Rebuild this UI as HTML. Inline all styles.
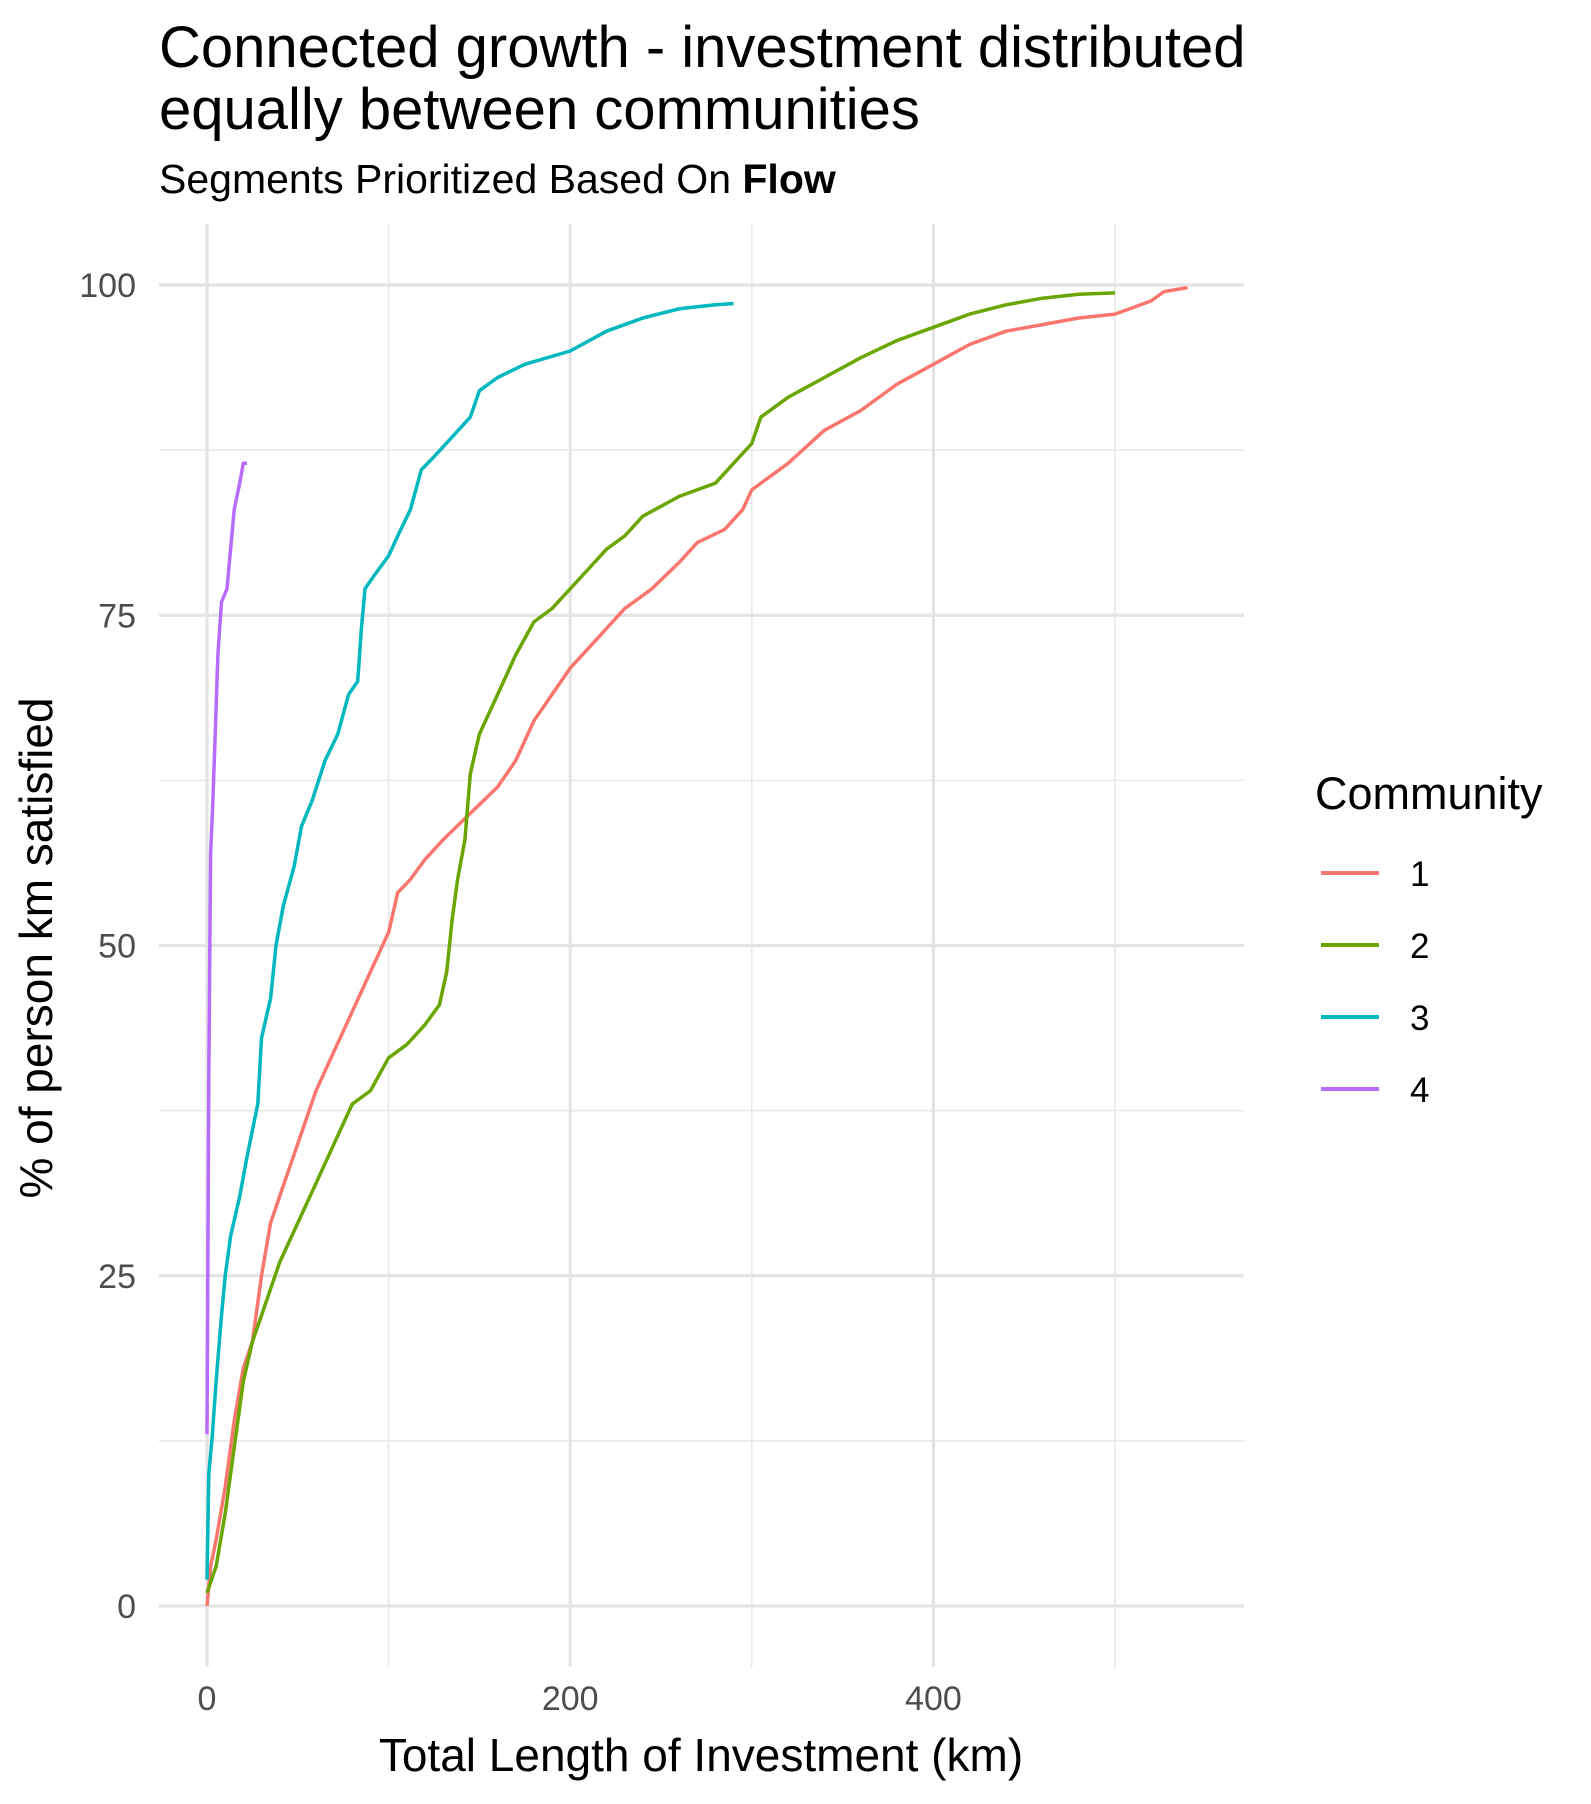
<!DOCTYPE html>
<html><head><meta charset="utf-8"><style>
body{margin:0;background:#fff;}
svg{display:block;font-family:"Liberation Sans",Arial,sans-serif;}
</style></head><body>
<svg width="1591" height="1804" viewBox="0 0 1591 1804">
<text x="159" y="67" font-size="58" fill="#000">Connected growth - investment distributed</text>
<text x="159" y="129" font-size="58" fill="#000">equally between communities</text>
<text x="159" y="193" font-size="41" fill="#000">Segments Prioritized Based On <tspan font-weight="bold">Flow</tspan></text>
<g id="grid"></g>
<g id="axes"></g>
<g id="lines"></g>
<text x="701" y="1771" font-size="46" text-anchor="middle">Total Length of Investment (km)</text>
<text transform="translate(52,948) rotate(-90)" font-size="46" text-anchor="middle">% of person km satisfied</text>
<text x="1315" y="809" font-size="45">Community</text>
<g id="legend"></g>
</svg>
<script>
const xTicks=[0,200,400];
const xMinor=[100,300,500];
const yTicks=[0,25,50,75,100];
const yMinor=[12.5,37.5,62.5,87.5];
const communities=["1","2","3","4"];
const colors=["#F8766D","#6BA500","#00B8BD","#B86BFF"];
const c1x=[0,2,5,10,15,20,25,30,35,40,45,50,55,60,70,80,90,100,105,112,120,130,145,160,170,180,190,200,210,220,230,245,260,270,285,295,300,320,340,360,380,400,420,440,460,480,500,520,527,540];
const c1y=[0,3,5,9,14,18,20,25,29,31,33,35,37,39,42,45,48,51,54,55,56.5,58,60,62,64,67,69,71,72.5,74,75.5,77,79,80.5,81.5,83,84.5,86.5,89,90.5,92.5,94,95.5,96.5,97,97.5,97.8,98.8,99.5,99.8];
const c2x=[0,5,10,15,20,25,30,40,50,60,70,80,90,100,110,120,128,132,135,138,142,145,150,160,170,180,190,200,210,220,230,240,260,280,290,300,305,320,340,360,380,400,420,440,460,480,500];
const c2y=[1,3,7,12,17,20,22,26,29,32,35,38,39,41.5,42.5,44,45.5,48,52,55,58,63,66,69,72,74.5,75.5,77,78.5,80,81,82.5,84,85,86.5,88,90,91.5,93,94.5,95.8,96.8,97.8,98.5,99,99.3,99.4];
const c3x=[0,1,3,5,8,10,13,18,22,25,28,30,35,38,42,48,52,58,65,72,78,83,85,87,92,100,105,112,118,125,135,145,150,160,175,200,220,240,260,280,290];
const c3y=[2,10,13,17,22,25,28,31,34,36,38,43,46,50,53,56,59,61,64,66,69,70,74,77,78,79.5,81,83,86,87,88.5,90,92,93,94,95,96.5,97.5,98.2,98.5,98.6];
const c4x=[0,1,2,3,4,6,8,11,13,15,18,20,22];
const c4y=[13,40,57,60,64,72,76,77,80,83,85,86.5,86.5];
const seriesX=[c1x,c2x,c3x,c4x];
const seriesY=[c1y,c2y,c3y,c4y];
const NS="http://www.w3.org/2000/svg";
const xs=v=>207+v*1.816;
const ys=v=>1606-v*13.21;
const L=159,R=1244,T=224,B=1667;
function mk(tag,attrs,parent){const e=document.createElementNS(NS,tag);for(const k in attrs)e.setAttribute(k,attrs[k]);parent.appendChild(e);return e;}
const grid=document.getElementById('grid'),axes=document.getElementById('axes'),lines=document.getElementById('lines'),legend=document.getElementById('legend');
yMinor.forEach(v=>{const e=mk('line',{x1:L,x2:R,y1:ys(v),y2:ys(v),stroke:'#e8e8e8','stroke-width':1.6},grid);

});
xMinor.forEach(v=>{const e=mk('line',{x1:xs(v),x2:xs(v),y1:T,y2:B,stroke:'#e8e8e8','stroke-width':1.6},grid);

});
yTicks.forEach(v=>{const e=mk('line',{x1:L,x2:R,y1:ys(v),y2:ys(v),stroke:'#e4e4e4','stroke-width':3.2},grid);


const t=mk('text',{x:136,y:ys(v)+12,'font-size':34,fill:'#4d4d4d','text-anchor':'end'},axes);t.textContent=v;

});
xTicks.forEach(v=>{const e=mk('line',{x1:xs(v),x2:xs(v),y1:T,y2:B,stroke:'#e4e4e4','stroke-width':3.2},grid);


const t=mk('text',{x:xs(v),y:1710,'font-size':34,fill:'#4d4d4d','text-anchor':'middle'},axes);t.textContent=v;

});
seriesX.forEach((xa,i)=>{const ya=seriesY[i];
const d=xa.map((x,j)=>(j?'L':'M')+xs(x).toFixed(1)+' '+ys(ya[j]).toFixed(1)).join(' ');
const p=mk('path',{d:d,fill:'none',stroke:colors[i],'stroke-width':3.5,'stroke-linejoin':'round'},lines);


const ly=873+i*72;
const ll=mk('line',{x1:1321,x2:1379,y1:ly,y2:ly,stroke:colors[i],'stroke-width':4},legend);


const lt=mk('text',{x:1410,y:ly+13,'font-size':35},legend);lt.textContent=communities[i];

});
</script>
</body></html>
